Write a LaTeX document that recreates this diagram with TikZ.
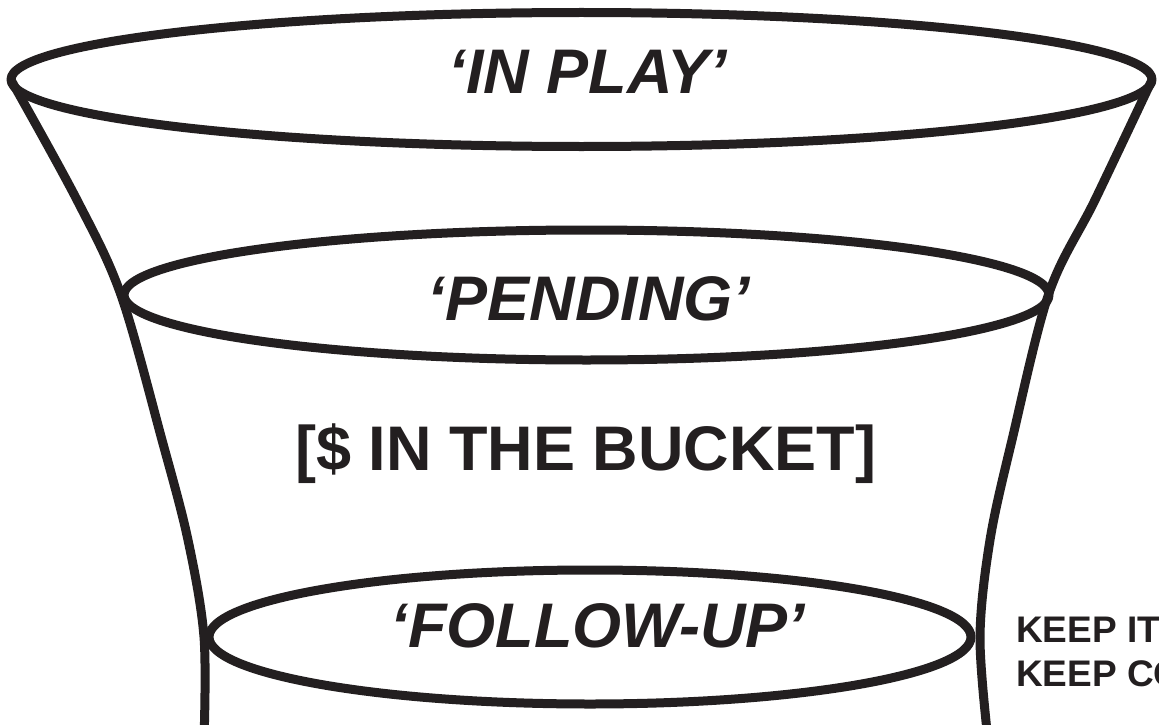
\documentclass[tikz,border=0pt]{standalone}
\usepackage{fontspec}
\setmainfont{Liberation Sans}
\definecolor{ink}{HTML}{231F20}
\begin{document}
\begin{tikzpicture}[x=1pt,y=-1pt,
  outline/.style={draw=ink, line width=9pt, line join=round},
  lbl/.style={text=ink, inner sep=0pt, anchor=base, font=\fontsize{63}{63}\selectfont\bfseries\itshape},
  bucketlbl/.style={text=ink, inner sep=0pt, anchor=base, font=\fontsize{63}{63}\selectfont\bfseries},
  notelbl/.style={text=ink, inner sep=0pt, anchor=base west, font=\fontsize{37}{37}\selectfont\bfseries}]
\useasboundingbox (0,0) rectangle (1159,725);
\fill[white] (0,0) rectangle (1159,725);
\clip (0,0) rectangle (1159,725);
% sides of the bucket
\draw[outline] plot[smooth, tension=0.55] coordinates {(11,80) (77,200) (121,295) (162,440) (188,540) (204,637) (204,740)};
\draw[outline] plot[smooth, tension=0.55] coordinates {(1152,80) (1095,200) (1049,293) (1012,440) (990,540) (980,637) (988,740)};
% rims
\draw[outline] (581.5,79.5) ellipse [x radius=570.5pt, y radius=67pt];
\draw[outline] (586.5,295) ellipse [x radius=462.5pt, y radius=65pt];
\draw[outline] (590,637) ellipse [x radius=381pt, y radius=67pt];
% labels
\node[lbl] (inplay) at (588,93) {‘IN PLAY’};
\node[lbl] (pending) at (589,320) {‘PENDING’};
\node[bucketlbl] (bucket) at (586,470) {[\$ IN THE BUCKET]};
\node[lbl] (followup) at (598,647) {‘FOLLOW-UP’};
\node[notelbl] (keep1) at (1016,642) {KEEP IT};
\node[notelbl] (keep2) at (1016,686) {KEEP CO};
\end{tikzpicture}
\end{document}
